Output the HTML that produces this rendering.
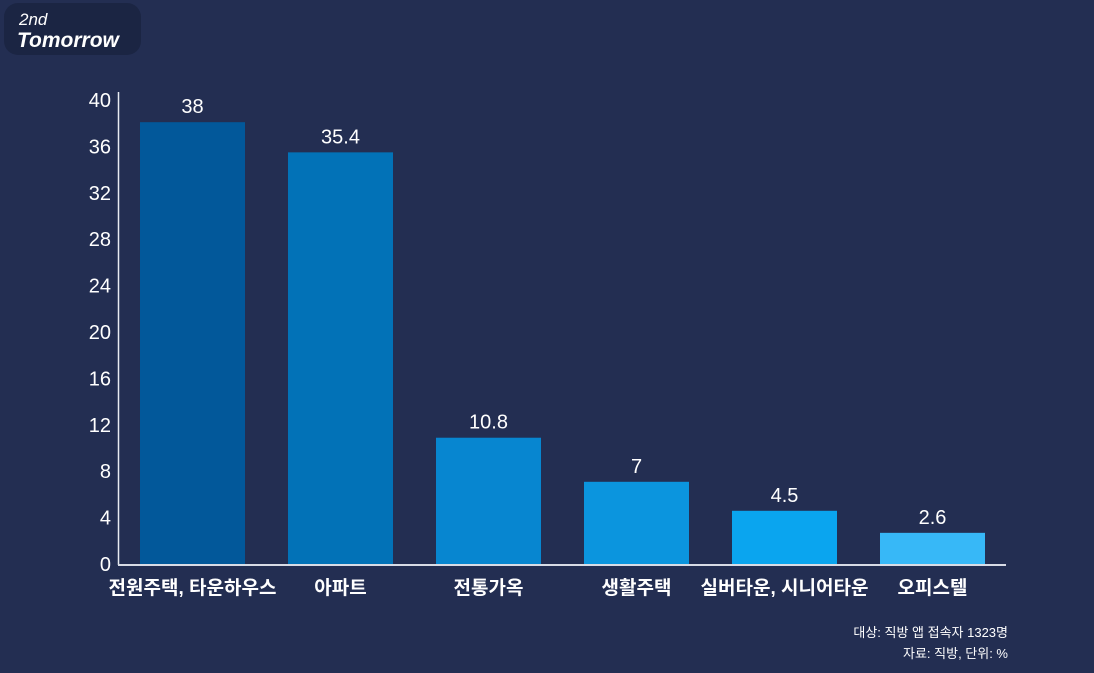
<!DOCTYPE html>
<html><head><meta charset="utf-8"><style>
body{margin:0;width:1094px;height:668px;background:#232e52;overflow:hidden;font-family:"Liberation Sans","Noto Sans CJK KR",sans-serif;}
svg text{font-family:"Liberation Sans","Noto Sans CJK KR",sans-serif;}
</style></head><body>
<svg id="c" width="1094" height="668">
<rect x="4" y="3" width="137" height="52" rx="14" fill="#1b2543"/>
<text x="19" y="25" fill="#fff" font-size="17" font-style="italic">2nd</text>
<text x="17" y="47" fill="#fff" font-size="21" font-weight="bold" font-style="italic">Tomorrow</text>
<text x="1008" y="637" fill="#fff" font-size="13" text-anchor="end">대상: 직방 앱 접속자 1323명</text>
<text x="1008" y="658" fill="#fff" font-size="13" text-anchor="end">자료: 직방, 단위: %</text>
</svg>
<script>
const categories=["전원주택, 타운하우스","아파트","전통가옥","생활주택","실버타운, 시니어타운","오피스텔"];
const values=[38,35.4,10.8,7,4.5,2.6];
const labels=["38","35.4","10.8","7","4.5","2.6"];
const ticks=[0,4,8,12,16,20,24,28,32,36,40];
const colors=["#02589a","#0272b7","#0786d0","#0b95de","#0aa5ef","#37b8f7"];
const svg=document.getElementById('c');const NS="http://www.w3.org/2000/svg";
const y0=563,k=11.6;const y=v=>y0-v*k;const x=i=>140+i*148;const bw=105;
function mk(t,a,txt){const e=document.createElementNS(NS,t);for(const n in a)e.setAttribute(n,a[n]);if(txt!=null)e.textContent=txt;svg.appendChild(e);return e;}
ticks.forEach(t=>{const e=mk('text',{x:111,y:y(t)+8,fill:'#fff','font-size':20,'text-anchor':'end'},t);

});
values.forEach((v,i)=>{const r=mk('rect',{x:x(i),y:y(v),width:bw,height:y0-y(v)+1,fill:colors[i]});


const l=mk('text',{x:x(i)+bw/2,y:y(v)-9,fill:'#fff','font-size':20,'text-anchor':'middle'},labels[i]);


const c=mk('text',{x:x(i)+bw/2,y:594,fill:'#fff','font-size':19,'font-weight':'bold','text-anchor':'middle'},categories[i]);

});
const ya=mk('line',{x1:118.5,y1:92,x2:118.5,y2:y0+2,stroke:'#e8ebf2','stroke-width':1.5});


const xa=mk('line',{x1:118,y1:y0+2,x2:1006,y2:y0+2,stroke:'#d8dce6','stroke-width':2});


</script>
</body></html>
